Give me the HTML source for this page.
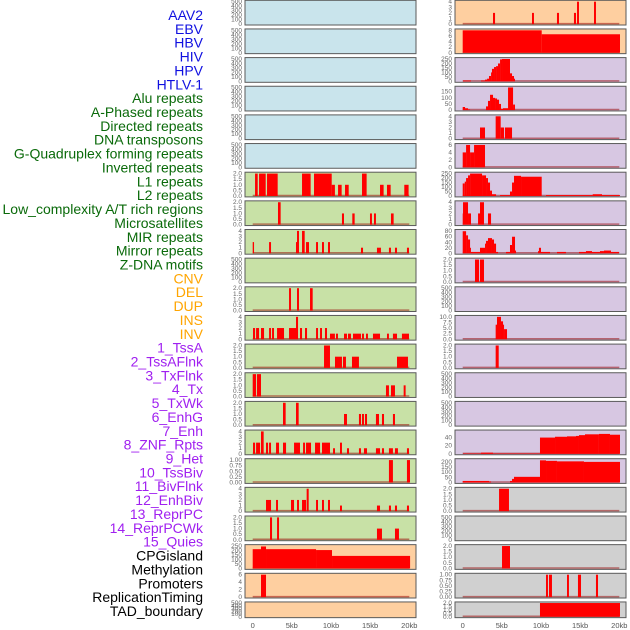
<!DOCTYPE html>
<html><head><meta charset="utf-8">
<style>
html,body{margin:0;padding:0;background:#fff;width:630px;height:630px;overflow:hidden}
svg{display:block}
</style></head>
<body>
<svg id="chart" width="630" height="630" xmlns="http://www.w3.org/2000/svg">
<g id="labels"></g>
<g id="panels"></g>
<g id="xaxes"></g>
</svg>
<script>
// ---- feature labels ----
const featureNames = ["AAV2","EBV","HBV","HIV","HPV","HTLV-1","Alu repeats","A-Phased repeats","Directed repeats","DNA transposons","G-Quadruplex forming repeats","Inverted repeats","L1 repeats","L2 repeats","Low_complexity A/T rich regions","Microsatellites","MIR repeats","Mirror repeats","Z-DNA motifs","CNV","DEL","DUP","INS","INV","1_TssA","2_TssAFlnk","3_TxFlnk","4_Tx","5_TxWk","6_EnhG","7_Enh","8_ZNF_Rpts","9_Het","10_TssBiv","11_BivFlnk","12_EnhBiv","13_ReprPC","14_ReprPCWk","15_Quies","CPGisland","Methylation","Promoters","ReplicationTiming","TAD_boundary"];
const featureGroups = [6,13,5,15,5];
const groupColors = ["#1010e0","#0a6a0a","#ffa500","#a020f0","#000000"];

// ---- tick sets ----
const T500=[0,100,200,300,400,500], T2=[0,0.5,1,1.5,2], T4=[0,1,2,3,4], T1=[0,0.25,0.5,0.75,1];
const T6=[0,2,4,6], T8=[0,2,4,6,8], T250=[0,50,100,150,200,250], T150=[0,50,100,150], T80=[0,20,40,60,80], T10=[0,2.5,5,7.5,10], T40=[0,20,40], T200=[0,50,100,150,200];

// ---- left column data [startKb, endKb, value] ----
const L6=[[0.3,0.64,2],[0.81,1.66,2],[1.83,3.19,2],[6.3,7.4,2],[7.83,10.09,2],[10.09,10.5,1],[10.9,11.36,1],[11.79,12.26,1],[13.96,14.55,2],[16.26,16.72,1],[17.15,17.62,1],[19.36,19.91,1]];
const L7=[[3.23,3.57,2],[11.4,11.66,1],[12.72,13.02,1],[14.98,15.23,1],[15.49,15.74,1],[17.66,18.0,1]];
const L8=[[0,0.17,2],[2.09,2.34,2],[5.53,5.66,2],[5.66,5.91,4],[6.3,6.64,4],[6.81,7.19,2],[8.09,8.34,2],[8.85,9.1,2],[9.62,9.87,2],[13.83,14.09,1],[15.87,16.38,1],[17.4,17.66,1],[18.17,18.43,1],[19.7,19.96,1]];
const L10=[[4.64,4.89,2],[5.66,5.91,2],[7.32,7.66,2]];
const L11=[[0.04,0.3,2],[0.43,0.81,2],[1.06,1.45,2],[2.09,2.34,2],[2.47,2.72,2],[3.11,4.0,2],[4.64,5.53,2],[5.53,5.79,4],[6.04,6.3,2],[6.68,6.94,2],[8.09,8.34,2],[8.6,8.85,2],[9.23,9.49,2],[9.87,10.5,1],[10.64,10.89,1],[11.66,12.04,1],[12.17,12.55,1],[12.81,13.83,1],[13.96,14.21,1],[14.47,14.72,1],[15.36,16.26,1],[17.15,17.4,1],[17.91,18.43,1],[19.06,19.96,1]];
const L12=[[9.11,9.87,2],[10.51,11.4,1],[11.53,11.91,1],[12.68,13.57,1],[18.43,19.83,1]];
const L13=[[0,0.43,2],[0.55,1.06,2],[17.02,17.4,1],[17.66,18.17,1],[19.28,19.53,1]];
const L14=[[3.87,4.21,2],[5.53,5.87,2],[11.66,12.04,1],[13.57,13.83,1],[13.96,14.21,1],[14.34,14.6,1],[15.74,16.13,1],[16.51,16.77,1],[17.91,18.17,1]];
const L15=[[0.04,0.3,2],[0.43,0.94,2],[1.06,1.4,4],[1.7,1.96,2],[2.09,2.34,2],[2.98,3.36,2],[3.87,4.26,2],[5.28,6.04,2],[6.43,6.68,2],[6.81,7.45,2],[7.96,8.6,2],[8.85,9.87,2],[10.26,10.51,1],[11.15,11.4,2],[12.04,12.3,1],[13.57,13.83,1],[14.21,14.6,1],[15.74,16.26,1],[16.51,16.77,1],[17.4,17.91,1],[18.17,18.55,1],[19.7,19.96,1]];
const L16=[[17.4,17.91,1],[19.7,20.09,1]];
const L17=[[1.7,2.34,2],[2.98,3.23,2],[4.89,5.28,2],[5.66,5.91,2],[6.3,6.81,2],[6.89,7.15,4],[8.09,8.34,2],[8.85,9.1,2],[9.62,9.87,2],[11.15,11.4,1],[15.87,16.26,1],[17.4,17.66,1],[18.17,18.43,1],[19.7,19.96,1]];
const L18=[[2.21,2.47,2],[3.11,3.36,2],[15.87,16.51,1],[18.17,18.68,1]];
const L19=[[0,1.06,215],[1.06,1.7,245],[1.7,8.09,215],[8.09,10.13,205],[10.13,20.1,140]];
const L20=[[1.06,1.7,6]];

// ---- right column data ----
const R0=[[3.87,4.13,2],[8.85,9.1,2],[12.04,12.3,2],[14.21,14.47,2],[14.6,14.85,4],[16.77,17.02,4]];
const R1=[[0,10.09,8],[10.09,20.09,6.6]];
const R2=[[0.04,1.06,10],[2.34,2.85,10],[2.85,3.11,20],[3.11,3.36,30],[3.36,3.62,60],[3.62,3.74,100],[3.74,4.0,140],[4.0,4.26,160],[4.26,4.51,170],[4.51,4.77,200],[4.77,5.02,245],[5.02,6.04,250],[6.04,6.3,90],[6.3,6.55,60],[6.55,6.68,30]];
const R3=[[0,0.3,25],[0.3,0.68,15],[0.68,0.94,5],[2.98,3.23,30],[3.23,3.49,75],[3.49,3.87,125],[3.87,4.13,100],[4.13,4.38,95],[4.38,4.64,85],[4.64,4.89,50],[4.89,5.15,10],[5.15,5.79,15],[5.79,6.43,185],[6.43,6.68,45]];
const R4=[[2.21,2.85,2],[4.21,4.85,4],[4.85,5.28,2],[5.4,6.3,2]];
const R5=[[0,0.43,4],[0.43,0.94,6],[0.94,1.45,4],[1.45,2.85,6]];
const R6=[[0,0.26,140],[0.26,0.43,160],[0.43,0.68,200],[0.68,0.94,230],[0.94,2.47,250],[2.47,2.98,230],[2.98,3.23,200],[3.23,3.49,150],[3.49,3.74,60],[3.74,4.26,20],[4.77,6.04,10],[6.04,6.3,50],[6.3,6.55,150],[6.55,7.45,225],[7.45,10.09,215],[10.64,16.6,10],[16.6,17.79,20],[17.79,20.09,10]];
const R7=[[0,0.04,2],[0.04,0.68,4],[0.68,1.06,2],[1.96,2.21,2],[2.21,2.72,4],[3.23,3.62,2]];
const R8=[[0,0.43,80],[0.43,0.68,65],[0.68,0.94,50],[0.94,1.06,20],[1.06,2.21,5],[2.21,2.85,20],[2.85,2.98,35],[2.98,3.23,45],[3.23,3.74,55],[3.74,4.0,50],[4.0,4.26,35],[4.26,4.51,5],[5.53,6.04,5],[6.04,6.3,30],[6.3,6.68,60],[6.68,6.81,10],[9.62,9.74,8],[9.74,10.0,20],[10.0,11.15,5],[12.04,13.19,5],[14.85,15.74,5],[15.74,16.51,8],[16.51,17.53,5],[17.53,18.04,8],[18.04,18.94,10],[18.94,19.96,5]];
const R9=[[1.57,2.09,2],[2.21,2.72,2]];
const R11=[[4.21,4.38,6.5],[4.38,4.89,10],[4.89,5.15,8],[5.15,5.28,6.5],[5.28,5.66,4.5]];
const R12=[[4.21,4.6,2]];
const R15=[[0.04,2.34,1],[2.34,3.87,3],[3.87,9.87,1],[9.87,11.79,40],[11.79,13.32,42],[13.32,14.47,43],[14.47,14.85,44],[14.85,15.62,46],[15.62,17.4,48],[17.4,18.81,49],[18.81,20.09,47]];
const R16=[[0,3.36,15],[3.36,3.62,10],[6.04,6.3,15],[6.3,6.55,35],[6.55,9.87,55],[9.87,10.64,215],[10.64,12.04,210],[12.04,15.49,205],[15.49,20.09,200]];
const R17=[[4.64,5.91,2]];
const R19=[[5.02,6.04,2]];
const R20=[[10.64,10.89,1],[11.02,11.4,1],[13.32,13.57,1],[14.72,15.11,1],[17.02,17.28,1]];
const R21=[[9.87,20.09,2]];

const xTickKb=[0,5,10,15,20];
const xTickLabels=["0","5kb","10kb","15kb","20kb"];

const BLUE="#c9e4ec",GREEN="#c8e1a6",ORANGE="#fecfa0",PURPLE="#d7c7e2",GREY="#d0d0d0";
const leftPanels=[
 [null,T500,BLUE],[null,T500,BLUE],[null,T500,BLUE],[null,T500,BLUE],[null,T500,BLUE],[null,T500,BLUE],
 [L6,T2,GREEN],[L7,T2,GREEN],[L8,T4,GREEN],[null,T500,GREEN],[L10,T2,GREEN],[L11,T4,GREEN],[L12,T2,GREEN],[L13,T2,GREEN],
 [L14,T2,GREEN],[L15,T4,GREEN],[L16,T1,GREEN],[L17,T4,GREEN],[L18,T2,GREEN],[L19,T250,ORANGE],[L20,T6,ORANGE],[null,T500,ORANGE]];
const rightPanels=[
 [R0,T4,ORANGE],[R1,T8,ORANGE],[R2,T250,PURPLE],[R3,T150,PURPLE,190],[R4,T4,PURPLE],[R5,T6,PURPLE],[R6,T250,PURPLE],
 [R7,T4,PURPLE],[R8,T80,PURPLE,84],[R9,T2,PURPLE],[null,T500,PURPLE],[R11,T10,PURPLE],[R12,T2,PURPLE],[null,T500,PURPLE],
 [null,T500,PURPLE],[R15,T40,PURPLE,57],[R16,T200,PURPLE,225],[R17,T2,GREY],[null,T500,GREY],[R19,T2,GREY],[R20,T1,GREY],[R21,T2,GREY]];

const NS="http://www.w3.org/2000/svg";
function mk(tag,attrs,parent){const e=document.createElementNS(NS,tag);for(const k in attrs)e.setAttribute(k,attrs[k]);parent.appendChild(e);return e;}

// labels
const lg=document.getElementById('labels');
let idx=0;
featureGroups.forEach((n,g)=>{for(let i=0;i<n;i++){
  const t=mk('text',{x:203,y:(15+idx*13.86+5).toFixed(1),'text-anchor':'end','font-family':'Liberation Sans, sans-serif','font-size':'14',fill:groupColors[g]},lg);
  t.textContent=featureNames[idx];
  
  
  idx++;}});

const pg=document.getElementById('panels');
const PW=7.83;
function fmt(v,ticks){const step=ticks[1]-ticks[0];if(step<0.5||(step%1!==0&&step===0.25))return v.toFixed(2);if(step%1!==0)return v.toFixed(1);return String(v);}
function drawCol(panels,px,x0,side){
  panels.forEach((p,i)=>{
    const [data,ticks,bg,ym]=p;
    const top=i*28.65+0.3, h=(i===21?15.7:24.7);
    const ymax=ym||ticks[ticks.length-1]*1.035;
    const zeroY=top+h-0.9, topY=top+0.6;
    const y=v=>zeroY-(v/ymax)*(zeroY-topY);
    const x=kb=>x0+kb*PW;
    const g=mk('g',{},pg);
    
    
    const r=mk('rect',{x:px,y:top,width:171,height:h,fill:bg,stroke:'#5a5a5a','stroke-width':1},g);
    
    
    ticks.forEach(t=>{
      const tx=mk('text',{x:px-3,y:(y(t)+2).toFixed(1),'text-anchor':'end','font-family':'Liberation Sans, sans-serif','font-size':'6.5',fill:'#666'},g);
      tx.textContent=fmt(t,ticks);
      
      
    });
    if(data){
      const bl=mk('line',{x1:x(0),x2:x(20),y1:zeroY-0.5,y2:zeroY-0.5,stroke:'rgba(150,0,0,0.5)','stroke-width':1.5},g);
      
      
      data.forEach(d=>{
        const b=mk('rect',{x:x(d[0]).toFixed(2),y:y(d[2]).toFixed(2),width:Math.max(0.8,x(d[1])-x(d[0])).toFixed(2),height:(zeroY-y(d[2])).toFixed(2),fill:'#ff0000'},g);
        
        
      });
    }
  });
}
drawCol(leftPanels,245,252.7,'left');
drawCol(rightPanels,455,462.7,'right');

const xg=document.getElementById('xaxes');
[252.7,462.7].forEach(x0=>{
  xTickKb.forEach((kb,i)=>{
    const t=mk('text',{x:(x0+kb*PW).toFixed(1),y:628,'text-anchor':'middle','font-family':'Liberation Sans, sans-serif','font-size':'7.5',fill:'#555'},xg);
    t.textContent=xTickLabels[i];
    
    
  });
});
</script>
</body></html>
